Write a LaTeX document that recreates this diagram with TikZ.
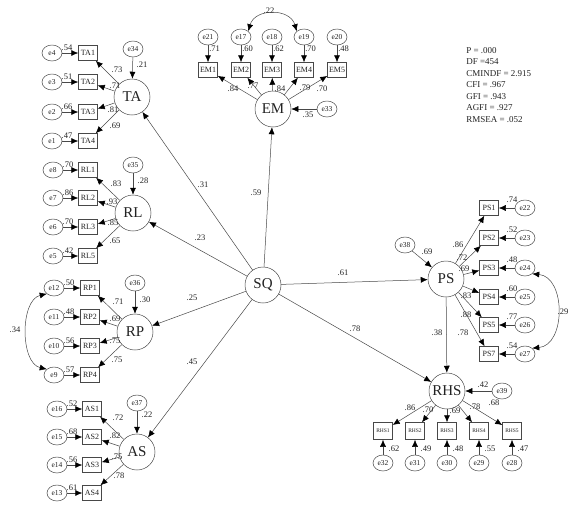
\documentclass[tikz,border=0pt]{standalone}
\usepackage{fontspec}
\setmainfont{Liberation Serif}
\usetikzlibrary{arrows.meta,shapes.geometric}
\definecolor{ink}{HTML}{222222}
\definecolor{edgegray}{HTML}{484848}

\begin{document}
\begin{tikzpicture}[
  x=1pt,y=-1pt,line width=0.5pt,
  lat/.style={circle,draw=edgegray,minimum size=36pt,inner sep=0pt,text=ink,font=\fontsize{15}{15}\selectfont},
  ind/.style={draw=edgegray,minimum width=19pt,minimum height=15pt,inner sep=0pt,text=ink,font=\fontsize{8}{8}\selectfont},
  err/.style={ellipse,draw=edgegray,minimum width=20pt,minimum height=16pt,inner sep=0pt,text=ink,font=\fontsize{7.5}{7.5}\selectfont},
  val/.style={inner sep=0pt,text=ink,font=\fontsize{8.5}{8.5}\selectfont},
  arr/.style={-{Latex[length=7pt,width=6pt,black]},draw=edgegray},
  cov/.style={{Latex[length=7pt,width=6pt,black]}-{Latex[length=7pt,width=6pt,black]},draw=edgegray}
]
\useasboundingbox (0,0) rectangle (571,504);
\node[lat] (SQ) at (263,285) {SQ};
\node[lat] (TA) at (132,97) {TA};
\node[lat] (RL) at (133,213) {RL};
\node[lat] (RP) at (135,332) {RP};
\node[lat] (AS) at (137,452) {AS};
\node[lat] (EM) at (273,109) {EM};
\node[lat] (PS) at (446,279) {PS};
\node[lat] (RHS) at (447,391) {RHS};
\node[err] (e34) at (133,49) {e34};
\node[err] (e35) at (133,165) {e35};
\node[err] (e36) at (135,283) {e36};
\node[err] (e37) at (137,403) {e37};
\node[err] (e33) at (327,109) {e33};
\node[err] (e38) at (405,245) {e38};
\node[err] (e39) at (502,391) {e39};
\foreach \a/\b in {e34/TA,e35/RL,e36/RP,e37/AS,e33/EM,e38/PS,e39/RHS,SQ/TA,SQ/RL,SQ/RP,SQ/AS,SQ/EM,SQ/PS,SQ/RHS,PS/RHS} \draw[arr] (\a)--(\b);
\node[val] (r34) at (142,65) {.21};
\node[val] (r35) at (143,181) {.28};
\node[val] (r36) at (145,300) {.30};
\node[val] (r37) at (147,415) {.22};
\node[val] (r33) at (308,115) {.35};
\node[val] (r38) at (427,252) {.69};
\node[val] (r39) at (483,385) {.42};
\node[val] (pTA) at (203,185) {.31};
\node[val] (pEM) at (256,193) {.59};
\node[val] (pRL) at (200,238) {.23};
\node[val] (pPS) at (343,273) {.61};
\node[val] (pRP) at (192,298) {.25};
\node[val] (pAS) at (192,362) {.45};
\node[val] (pRHS) at (355,329) {.78};
\node[val] (pPR) at (437,333) {.38};
\foreach \n/\e/\y/\rr/\ld/\lx/\ly in {TA1/e4/53/.54/.73/117/70,TA2/e3/82/.51/.71/115/86,TA3/e2/112/.66/.81/113/110,TA4/e1/141/.47/.69/115/126}{
  \node[ind] (\n) at (88,\y) {\n};
  \node[err] (\e) at (52,\y) {\e};
  \draw[arr] (\e)--(\n);
  \draw[arr] (TA)--(\n);
  \node[val] (v\n) at (\lx,\ly) {\ld};
  \node[val] (v\e) at (67,\y-5) {\rr};
}
\foreach \n/\e/\y/\rr/\ld/\lx/\ly in {RL1/e8/170/.70/.83/116/184,RL2/e7/198/.86/.93/112/202,RL3/e6/227/.70/.85/113/223,RL5/e5/256/.42/.65/115/241}{
  \node[ind] (\n) at (88,\y) {\n};
  \node[err] (\e) at (53,\y) {\e};
  \draw[arr] (\e)--(\n);
  \draw[arr] (RL)--(\n);
  \node[val] (v\n) at (\lx,\ly) {\ld};
  \node[val] (v\e) at (68,\y-5) {\rr};
}
\foreach \n/\e/\y/\rr/\ld/\lx/\ly in {RP1/e12/288/.50/.71/118/302,RP2/e11/317/.48/.69/115/319,RP3/e10/346/.56/.75/115/341,RP4/e9/375/.57/.75/117/360}{
  \node[ind] (\n) at (90,\y) {\n};
  \node[err] (\e) at (54,\y) {\e};
  \draw[arr] (\e)--(\n);
  \draw[arr] (RP)--(\n);
  \node[val] (v\n) at (\lx,\ly) {\ld};
  \node[val] (v\e) at (69,\y-5) {\rr};
}
\foreach \n/\e/\y/\rr/\ld/\lx/\ly in {AS1/e16/409/.52/.72/118/418,AS2/e15/437/.68/.82/115/436,AS3/e14/465/.56/.75/117/457,AS4/e13/493/.61/.78/119/476}{
  \node[ind] (\n) at (92,\y) {\n};
  \node[err] (\e) at (57,\y) {\e};
  \draw[arr] (\e)--(\n);
  \draw[arr] (AS)--(\n);
  \node[val] (v\n) at (\lx,\ly) {\ld};
  \node[val] (v\e) at (72,\y-5) {\rr};
}
\foreach \n/\e/\x/\rr/\ld/\lx/\ly in {EM1/e21/208/.71/.84/233/89,EM2/e17/241/.60/.77/253/86,EM3/e18/272/.62/.84/280/89,EM4/e19/304/.70/.79/305/88,EM5/e20/337/.48/.70/322/89}{
  \node[ind] (\n) at (\x,70) {\n};
  \node[err] (\e) at (\x,37) {\e};
  \draw[arr] (\e)--(\n);
  \draw[arr] (EM)--(\n);
  \node[val] (v\n) at (\lx,\ly) {\ld};
  \node[val,anchor=west] (v\e) at (\x+1,49) {\rr};
}
\foreach \n/\e/\y/\rr/\ld/\lx/\ly in {PS1/e22/208/.74/.86/458/245,PS2/e23/238/.52/.72/462/258,PS3/e24/268/.48/.69/464/269,PS4/e25/297/.60/.83/466/296,PS5/e26/325/.77/.88/466/315,PS7/e27/354/.54/.78/463/333}{
  \node[ind] (\n) at (489,\y) {\n};
  \node[err] (\e) at (525,\y) {\e};
  \draw[arr] (\e)--(\n);
  \draw[arr] (PS)--(\n);
  \node[val] (v\n) at (\lx,\ly) {\ld};
  \node[val] (v\e) at (512,\y-8) {\rr};
}
\foreach \n/\e/\x/\rr/\ld/\lx/\ly in {RHS1/e32/383/.62/.86/410/408,RHS2/e31/415/.49/.70/428/410,RHS3/e30/447/.48/.69/455/411,RHS4/e29/479/.55/.78/475/407,RHS5/e28/512/.47/.68/494/403}{
  \node[ind,minimum height=17pt,font=\fontsize{5.5}{6}\selectfont] (\n) at (\x,431) {\n};
  \node[err] (\e) at (\x,463) {\e};
  \draw[arr] (\e)--(\n);
  \draw[arr] (RHS)--(\n);
  \node[val] (v\n) at (\lx,\ly) {\ld};
  \node[val] (v\e) at (\x+11,449) {\rr};
}
\draw[cov] (e17.north east) .. controls (255,8) and (290,8) .. (e19.north west);
\node[val] (c1) at (269,11) {.22};
\draw[cov] (e12.south west) .. controls (20,300) and (20,363) .. (e9.north west);
\node[val] (c2) at (15,330) {.34};
\draw[cov] (e24.south east) .. controls (566,277) and (566,345) .. (e27.north east);
\node[val] (c3) at (563,312) {.29};
\node[val,anchor=north west,align=left,font=\fontsize{9}{11.5}\selectfont] (fit) at (466,47) {P = .000\\DF =454\\CMINDF = 2.915\\CFI = .967\\GFI = .943\\AGFI = .927\\RMSEA = .052};
\end{tikzpicture}
\end{document}
